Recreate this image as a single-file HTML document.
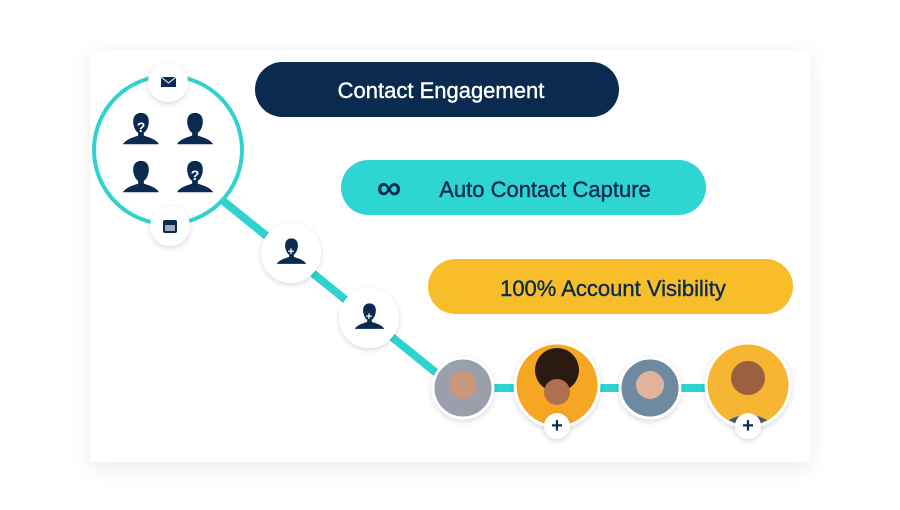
<!DOCTYPE html>
<html><head><style>
body{margin:0;width:900px;height:505px;background:#fff;overflow:hidden;font-family:"Liberation Sans",sans-serif}
</style></head><body>
<svg width="900" height="505" viewBox="0 0 900 505" xmlns="http://www.w3.org/2000/svg">
<defs>
<filter id="sh" x="-30%" y="-30%" width="160%" height="160%"><feDropShadow dx="0" dy="2" stdDeviation="3" flood-color="#000" flood-opacity="0.15"/></filter>
<filter id="cs" x="-10%" y="-10%" width="120%" height="130%"><feDropShadow dx="0" dy="6" stdDeviation="10" flood-color="#000" flood-opacity="0.08"/></filter>
<clipPath id="c4"><circle cx="748" cy="385" r="40"/></clipPath>
<clipPath id="c2"><circle cx="557" cy="385" r="40"/></clipPath>
<symbol id="p" viewBox="0 0 40 40"><path d="M20 3c-7 0-9 6-8 12 1 5 3 8 5 9v3c-6 2-13 4-16 9h38c-3-5-10-7-16-9v-3c2-1 4-4 5-9 1-6-1-12-8-12z" fill="#0b2a4f"/></symbol>
</defs>
<rect x="90" y="50" width="720" height="412" fill="#fff" filter="url(#cs)"/>
<g stroke="#2ed3d0" stroke-width="8" stroke-linecap="round">
<line x1="222" y1="200" x2="455" y2="388"/>
<line x1="463" y1="388" x2="748" y2="388"/>
</g>
<circle cx="168" cy="150" r="74" fill="#fff" stroke="#2ed3d0" stroke-width="4"/>
<use href="#p" x="122" y="110" width="38" height="38"/><text x="141" y="132" font-size="14" font-weight="bold" fill="#fff" text-anchor="middle">?</text>
<use href="#p" x="176" y="110" width="38" height="38"/>
<use href="#p" x="122" y="158" width="38" height="38"/>
<use href="#p" x="176" y="158" width="38" height="38"/><text x="195" y="180" font-size="14" font-weight="bold" fill="#fff" text-anchor="middle">?</text>
<circle cx="168" cy="82" r="20" fill="#fff" filter="url(#sh)"/>
<rect x="161" y="77" width="15" height="10" fill="#0b2a4f"/><path d="M161 77l7.5 6 7.5-6" stroke="#fff" fill="none" stroke-width="1"/>
<circle cx="170" cy="226" r="20" fill="#fff" filter="url(#sh)"/>
<rect x="163" y="220" width="14" height="13" rx="2" fill="#0b2a4f"/><rect x="165" y="225" width="10" height="6" fill="#fff" opacity=".6"/>
<circle cx="291" cy="253" r="30" fill="#fff" filter="url(#sh)"/>
<use href="#p" x="276" y="236" width="31" height="31"/><text x="291" y="255" font-size="11" font-weight="bold" fill="#fff" text-anchor="middle">+</text>
<circle cx="369" cy="318" r="30" fill="#fff" filter="url(#sh)"/>
<use href="#p" x="354" y="301" width="31" height="31"/><text x="369" y="320" font-size="11" font-weight="bold" fill="#fff" text-anchor="middle">+</text>
<circle cx="463" cy="388" r="30" fill="#9aa0ab" stroke="#fff" stroke-width="3" filter="url(#sh)"/>
<circle cx="463" cy="385" r="14" fill="#c9967e"/>
<circle cx="557" cy="385" r="42" fill="#f5a623" stroke="#fff" stroke-width="3" filter="url(#sh)"/>
<g clip-path="url(#c2)"><circle cx="557" cy="370" r="22" fill="#2a1a12"/><circle cx="557" cy="392" r="13" fill="#b07050"/><path d="M530 430q27-22 54 0z" fill="#e8a030"/></g>
<circle cx="650" cy="388" r="30" fill="#6e8aa0" stroke="#fff" stroke-width="3" filter="url(#sh)"/>
<circle cx="650" cy="385" r="14" fill="#e0b49a"/>
<circle cx="748" cy="385" r="42" fill="#f7b630" stroke="#fff" stroke-width="3" filter="url(#sh)"/>
<g clip-path="url(#c4)"><circle cx="748" cy="378" r="17" fill="#9a6040"/><path d="M715 430q33-30 66 0z" fill="#3c5a7a"/></g>
<circle cx="557" cy="426" r="13" fill="#fff" filter="url(#sh)"/><text x="557" y="432" font-size="20" font-weight="bold" fill="#0b2a4f" text-anchor="middle">+</text>
<circle cx="748" cy="426" r="13" fill="#fff" filter="url(#sh)"/><text x="748" y="432" font-size="20" font-weight="bold" fill="#0b2a4f" text-anchor="middle">+</text>
<rect x="255" y="62" width="364" height="55" rx="27.5" fill="#0b2a4f"/>
<text x="441" y="98" font-size="22" fill="#fff" stroke="#fff" stroke-width="0.4" text-anchor="middle">Contact Engagement</text>
<rect x="341" y="160" width="365" height="55" rx="27.5" fill="#2ed6d3"/>
<text x="545" y="197" font-size="22" fill="#0b2a4f" stroke="#0b2a4f" stroke-width="0.4" text-anchor="middle">Auto Contact Capture</text>
<text x="389" y="199" font-size="34" font-weight="bold" fill="#0b2a4f" text-anchor="middle">∞</text>
<rect x="428" y="259" width="365" height="55" rx="27.5" fill="#f8be2a"/>
<text x="613" y="296" font-size="22" fill="#0b2a4f" stroke="#0b2a4f" stroke-width="0.4" text-anchor="middle">100% Account Visibility</text>
</svg>
</body></html>
